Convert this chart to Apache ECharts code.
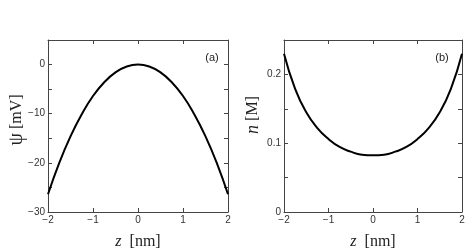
<!DOCTYPE html>
<html><head><meta charset="utf-8">
<script src="https://cdn.jsdelivr.net/npm/echarts@6/dist/echarts.min.js"></script>
<style>html,body{margin:0;padding:0;background:#fff}#c{width:472px;height:248px}</style>
</head><body><div id="c"></div>
<script>
const zValues = [-2,-1.75,-1.5,-1.25,-1,-0.75,-0.5,-0.25,0,0.25,0.5,0.75,1,1.25,1.5,1.75,2];
const psiValues = [-26.4,-20.0,-14.6,-10.1,-6.4,-3.6,-1.6,-0.4,0,-0.4,-1.6,-3.6,-6.4,-10.1,-14.6,-20.0,-26.4];
const nValues = [0.230,0.179,0.145,0.122,0.106,0.0945,0.0877,0.0833,0.0824,0.0833,0.0877,0.0945,0.106,0.122,0.145,0.179,0.230];
const xTicks = [-2,-1,0,1,2];
const psiTickLabels = [-30,-20,-10,0];
const nTickLabels = [0,0.1,0.2];

const chart = echarts.init(document.getElementById('c'));
const axisColor = '#444';
const sans = 'Liberation Sans';
const serif = 'Liberation Serif';
function fmtMinus(v){ return v < 0 ? '\u2212' + (-v) : String(v); }
const lineCfg = {show:true, onZero:false, lineStyle:{color:axisColor,width:1}};
const tickCfg = {show:true, inside:true, length:4, lineStyle:{color:axisColor}};

function xAxisPair(gi){
  return [
    {type:'value', gridIndex:gi, min:-2, max:2, interval:1, position:'bottom',
     axisLine:lineCfg, axisTick:tickCfg,
     axisLabel:{color:'#333',fontFamily:sans,fontSize:10,margin:3,
       formatter:v=> xTicks.includes(v) ? fmtMinus(v) : ''},
     splitLine:{show:false},
     name:'{i|z}  [nm]', nameLocation:'middle', nameGap:22,
     nameTextStyle:{fontFamily:serif,fontSize:16,color:'#222',
       rich:{i:{fontFamily:serif,fontStyle:'italic',fontSize:16,color:'#222'}}}},
    {type:'value', gridIndex:gi, min:-2, max:2, interval:1, position:'top',
     axisLine:lineCfg, axisTick:tickCfg,
     axisLabel:{show:false}, splitLine:{show:false}}
  ];
}
function yAxisPair(gi, mn, mx, iv, fmt){
  return [
    {type:'value', gridIndex:gi, min:mn, max:mx, interval:iv, position:'left',
     axisLine:lineCfg, axisTick:tickCfg,
     axisLabel:{color:'#333',fontFamily:sans,fontSize:10,margin:3,formatter:fmt},
     splitLine:{show:false}},
    {type:'value', gridIndex:gi, min:mn, max:mx, interval:iv, position:'right',
     axisLine:lineCfg, axisTick:tickCfg,
     axisLabel:{show:false}, splitLine:{show:false}}
  ];
}

const option = {
  animation:false,
  grid:[
    {left:48, right:244, top:40, bottom:36, containLabel:false, outerBoundsMode:'none'},
    {left:284, right:10, top:40, bottom:36, containLabel:false, outerBoundsMode:'none'}
  ],
  xAxis: [...xAxisPair(0), ...xAxisPair(1)],
  yAxis: [
    ...yAxisPair(0, -30, 5, 5, v=> psiTickLabels.includes(v) ? fmtMinus(v) : ''),
    ...yAxisPair(1, 0, 0.25, 0.05, v=>{ const r = Math.round(v*100)/100; return nTickLabels.includes(r) ? String(r) : ''; })
  ],
  series: [
    {type:'line', xAxisIndex:0, yAxisIndex:0, smooth:true, showSymbol:false,
     lineStyle:{color:'#000',width:2}, data: zValues.map((z,i)=>[z,psiValues[i]])},
    {type:'line', xAxisIndex:2, yAxisIndex:2, smooth:true, showSymbol:false,
     lineStyle:{color:'#000',width:2}, data: zValues.map((z,i)=>[z,nValues[i]])}
  ],
  graphic: [
    {type:'text', x:17, y:120, rotation:Math.PI/2,
     style:{text:'{g|ψ} [mV]', fontFamily:serif, fontSize:16, fill:'#222',
       align:'center', verticalAlign:'middle',
       rich:{g:{fontFamily:serif,fontSize:20,fill:'#222'}}}},
    {type:'text', x:253, y:115, rotation:Math.PI/2,
     style:{text:'{i|n} [M]', fontFamily:serif, fontSize:16, fill:'#222',
       align:'center', verticalAlign:'middle',
       rich:{i:{fontFamily:serif,fontStyle:'italic',fontSize:18,fill:'#222'}}}},
    {type:'text', x:212, y:58, style:{text:'(a)', fontFamily:sans, fontSize:11, fill:'#222', align:'center', verticalAlign:'middle'}},
    {type:'text', x:442, y:58, style:{text:'(b)', fontFamily:sans, fontSize:11, fill:'#222', align:'center', verticalAlign:'middle'}}
  ]
};
chart.setOption(option);
</script></body></html>
